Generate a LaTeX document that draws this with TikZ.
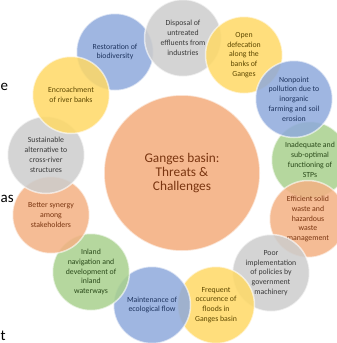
\documentclass[tikz,border=0pt]{standalone}
\usepackage{fontspec}
\setmainfont{Carlito}
\definecolor{cblue}{HTML}{8FAADC}
\definecolor{cgrey}{HTML}{CDCDCD}
\definecolor{cyellow}{HTML}{FFD966}
\definecolor{cgreen}{HTML}{A9D18E}
\definecolor{corange}{HTML}{F4B183}
\definecolor{tblue}{HTML}{1F3560}
\definecolor{tgrey}{HTML}{3A3A3A}
\definecolor{tyellow}{HTML}{5E4800}
\definecolor{tgreen}{HTML}{2A4A1A}
\definecolor{torange}{HTML}{7A3510}
\tikzset{
  bubble/.style={circle, minimum size=77pt, inner sep=0pt, align=center,
    fill opacity=0.85, text opacity=1, draw=white, draw opacity=0.6, line width=1.5pt,
    font=\fontsize{7.8}{9.8}\selectfont},
  bblue/.style={bubble, fill=cblue, text=tblue},
  bgrey/.style={bubble, fill=cgrey, text=tgrey},
  byellow/.style={bubble, fill=cyellow, text=tyellow},
  bgreen/.style={bubble, fill=cgreen, text=tgreen},
  borange/.style={bubble, fill=corange, text=torange},
  frag/.style={anchor=west, inner sep=0pt, text=black, font=\fontsize{15}{15}\selectfont}
}
\begin{document}
\begin{tikzpicture}[x=1pt,y=-1pt]
\useasboundingbox (0,0) rectangle (337,343);
\clip (0,0) rectangle (337,343);
\fill[white] (0,0) rectangle (337,343);
\node[frag] (f1) at (0.5,87) {e};
\node[frag] (f2) at (0.5,199) {as};
\node[frag] (f3) at (0.5,336) {t};
\node[circle, minimum size=156pt, inner sep=0pt, fill=corange, fill opacity=0.9, text opacity=1,
  draw=white, draw opacity=0.6, line width=1.5pt, text=torange, align=center,
  font=\fontsize{13.3}{14.2}\selectfont] (center) at (182,173) {Ganges basin:\\Threats \&\\Challenges};
\node[bblue] (rest) at (115,52) {Restoration of\\biodiversity};
\node[bgrey] (disp) at (183,38) {Disposal of\\untreated\\effluents from\\industries};
\node[byellow] (open) at (244,55) {Open\\defecation\\along the\\banks of\\Ganges};
\node[bgreen] (inad) at (310,160) {Inadequate and\\sub-optimal\\functioning of\\STPs};
\node[bblue] (nonp) at (294,99) {Nonpoint\\pollution due to\\inorganic\\farming and soil\\erosion};
\node[borange] (effi) at (308,219) {Efficient solid\\waste and\\hazardous\\waste\\management};
\node[bgrey] (poor) at (271,273) {Poor\\implementation\\of policies by\\government\\machinery};
\node[byellow] (flood) at (216,305) {Frequent\\occurence of\\floods in\\Ganges basin};
\node[bblue] (maint) at (152,305) {Maintenance of\\ecological flow};
\node[bgreen] (inland) at (91,272) {Inland\\navigation and\\development of\\inland\\waterways};
\node[borange] (better) at (51,215) {Better synergy\\among\\stakeholders};
\node[bgrey] (sust) at (46,155) {Sustainable\\alternative to\\cross-river\\structures};
\node[byellow] (encr) at (71,95) {Encroachment\\of river banks};
\end{tikzpicture}
\end{document}
